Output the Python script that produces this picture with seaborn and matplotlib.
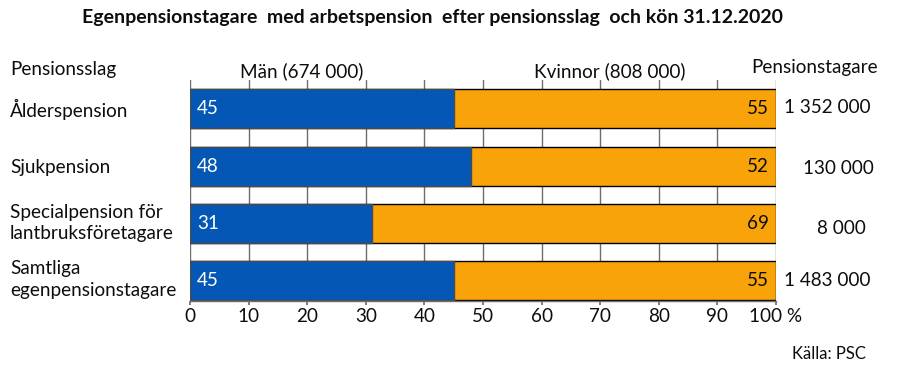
import matplotlib
matplotlib.use("Agg")
import matplotlib.pyplot as plt
import matplotlib.transforms as mtransforms
import seaborn as sns
import pandas as pd

categories = ["Ålderspension", "Sjukpension", "Specialpension för\nlantbruksföretagare",
              "Samtliga\negenpensionstagare"]
men = [45, 48, 31, 45]
women = [55, 52, 69, 55]
totals = ["1 352 000", "130 000", "8 000", "1 483 000"]
xticks = [0, 10, 20, 30, 40, 50, 60, 70, 80, 90, 100]
xticklabels = ["0", "10", "20", "30", "40", "50", "60", "70", "80", "90", "100 %"]
title = "Egenpensionstagare  med arbetspension  efter pensionsslag  och kön 31.12.2020"
men_label = "Män (674 000)"
women_label = "Kvinnor (808 000)"
source = "Källa: PSC"

sns.set_theme(style="white")
plt.rcParams['font.family'] = ['Lato', 'DejaVu Sans']

BLUE = "#0457B5"
ORANGE = "#F9A30B"
TXT = "#0d0d0d"
FS = 13.6

# layout of the total column (pixel x centres, small vertical nudges in row units)
tot_x_px = [827, 838, 841, 827]
tot_dy = [-0.02, 0.05, 0.09, 0.0]
# vertical nudges (pixels, upward) of the category labels
lab_dy_px = [1, 0, 4, 5]

df = pd.DataFrame({"cat": categories, "men": men, "women": women})
df["cum"] = df["men"] + df["women"]

fig = plt.figure(figsize=(8.99, 3.77), dpi=100)
ax = fig.add_axes([190/899, 1-301/377, (776-190)/899, (301-80)/377])

sns.barplot(data=df, x="cum", y="cat", orient="h", color=ORANGE, saturation=1,
            edgecolor="black", linewidth=1, width=0.68, ax=ax)
sns.barplot(data=df, x="men", y="cat", orient="h", color=BLUE, saturation=1,
            edgecolor="#4a4a4a", linewidth=1, width=0.68, ax=ax)

ax.set_xlim(0, 100)
ax.set_ylim(3.35, -0.5)
ax.set_axisbelow(True)
ax.grid(axis="x", color="#6e6e6e", linewidth=1)
ax.grid(axis="y", visible=False)
for s in ["top", "right", "left"]:
    ax.spines[s].set_visible(False)
ax.spines["bottom"].set_color("#6e6e6e")
ax.spines["bottom"].set_linewidth(1)

ax.set_xticks(xticks)
ax.set_xticklabels(xticklabels, fontsize=13.6, color=TXT)
ax.tick_params(axis="x", length=3, color="#6e6e6e", pad=2, bottom=True)
ax.set_yticks(range(len(categories)))
ax.set_yticklabels(categories, fontsize=FS, color=TXT, linespacing=1.3)
ax.tick_params(axis="y", length=0, pad=129.6)
for lab, dy in zip(ax.get_yticklabels(), lab_dy_px):
    lab.set_ha("left")
    lab.set_transform(lab.get_transform() +
                      mtransforms.ScaledTranslation(0, dy / 100, fig.dpi_scale_trans))
ax.set_xlabel("")
ax.set_ylabel("")

ax_left_px = 190
ax_w_px = 776 - 190
for i in range(len(categories)):
    ax.text(1.2, i, str(men[i]), color="white", fontsize=FS, va="center", ha="left")
    ax.text(98.8, i, str(women[i]), color=TXT, fontsize=FS, va="center", ha="right")
    ax.text((tot_x_px[i] - ax_left_px) / ax_w_px, i + tot_dy[i], totals[i],
            transform=ax.get_yaxis_transform(), fontsize=FS,
            color=TXT, va="center", ha="center")

fig.text(433/899, 1-18/377, title, fontsize=14, fontweight="bold", ha="center", va="center", color=TXT)
fig.text(10/899, 1-70/377, "Pensionsslag", fontsize=FS, ha="left", va="center", color=TXT)
fig.text(302/899, 1-71/377, men_label, fontsize=FS, ha="center", va="center", color=TXT)
fig.text(610/899, 1-71/377, women_label, fontsize=FS, ha="center", va="center", color=TXT)
fig.text(878/899, 1-68/377, "Pensionstagare", fontsize=FS, ha="right", va="center", color=TXT)
fig.text(866/899, 1-354/377, source, fontsize=12, ha="right", va="center", color=TXT)

fig.savefig("out.png", dpi=100)
